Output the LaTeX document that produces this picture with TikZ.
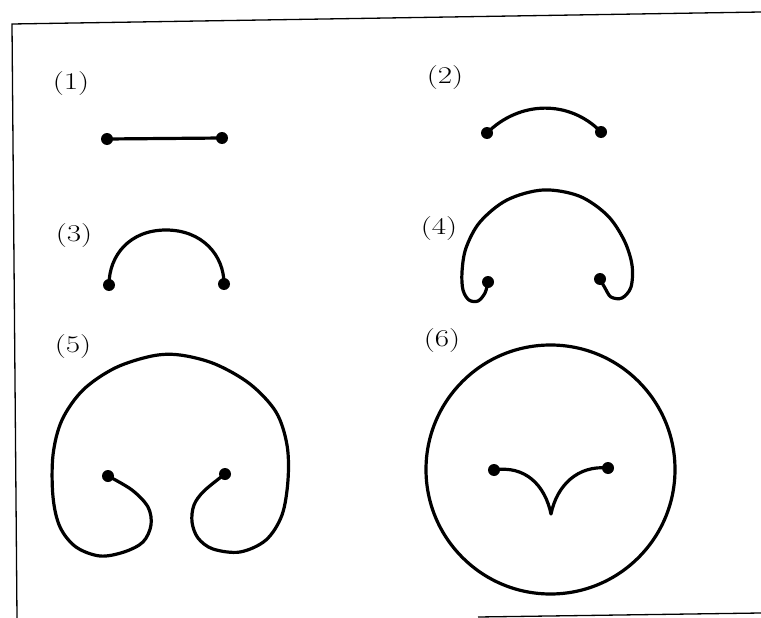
\documentclass[tikz,border=0pt]{standalone}
\usepackage{graphicx}
\begin{document}
\begin{tikzpicture}[x=1pt,y=-1pt,
  curve/.style={line width=3.2pt,line cap=round,line join=round},
  framel/.style={line width=1.3pt},
  dot/.style={circle,fill=black,inner sep=0pt,minimum size=12pt},
  lbl/.style={inner sep=0pt,font=\fontsize{24}{24}\selectfont}]
\useasboundingbox (0,0) rectangle (761,618);
% frame
\coordinate (ftl) at (12,24);
\coordinate (ftr) at (761,12);
\coordinate (fbl) at (17,618);
\coordinate (fb1) at (478,617);
\coordinate (fb2) at (761,613);
\draw[framel] (fbl) -- (ftl) -- (ftr);
\draw[framel] (fb1) -- (fb2);
% labels
\node[lbl] (l1) at (71,84) {\scalebox{1.3}[1]{(1)}};
\node[lbl] (l2) at (445,78) {\scalebox{1.3}[1]{(2)}};
\node[lbl] (l3) at (74,236) {\scalebox{1.3}[1]{(3)}};
\node[lbl] (l4) at (439,229) {\scalebox{1.3}[1]{(4)}};
\node[lbl] (l5) at (73,347) {\scalebox{1.3}[1]{(5)}};
\node[lbl] (l6) at (442,341) {\scalebox{1.3}[1]{(6)}};
% (1)
\node[dot] (a1) at (107,139) {};
\node[dot] (a2) at (222,138) {};
\draw[curve] (a1.center) -- (a2.center);
% (2)
\node[dot] (b1) at (487,133) {};
\node[dot] (b2) at (601,132) {};
\draw[curve] (b1.center) .. controls (520,100) and (570,100) .. (b2.center);
% (3)
\node[dot] (c1) at (109,285) {};
\node[dot] (c2) at (224,284) {};
\draw[curve] (c1.center) .. controls (109,255) and (130,230) .. (166,230)
  .. controls (202,230) and (224,255) .. (c2.center);
% (4)
\node[dot] (d1) at (488,282) {};
\node[dot] (d2) at (600,279) {};
\draw[curve] plot[smooth,tension=0.55] coordinates {(d1.center) (485,293) (478,301) (469,300) (463,290) (462,272) (466,248) (480,222) (507,200) (543,190) (579,196) (607,215) (624,240) (632,265) (631,287) (622,298) (611,297) (605,288) (d2.center)};
% (5)
\node[dot] (e1) at (108,476) {};
\node[dot] (e2) at (225,474) {};
\draw[curve] plot[smooth,tension=0.55] coordinates {(e1.center) (132,490) (148,507) (151,525) (143,542) (124,552) (100,556) (76,547) (60,527) (53,497) (53,455) (62,420) (83,390) (115,368) (152,356) (180,355) (215,364) (250,384) (276,412) (287,445) (288,480) (282,515) (266,540) (240,552) (213,549) (198,538) (192,522) (194,505) (204,491) (e2.center)};
% (6)
\node[circle,draw,line width=3.2pt,minimum size=249pt,inner sep=0pt] (circ) at (550.5,469.5) {};
\node[dot] (f1) at (494,470) {};
\node[dot] (f2) at (608,468) {};
\coordinate (cusp) at (551,514);
\draw[curve] (f1.center) .. controls (525,465) and (545,485) .. (cusp)
  .. controls (557,485) and (578,465) .. (f2.center);
\end{tikzpicture}
\end{document}
